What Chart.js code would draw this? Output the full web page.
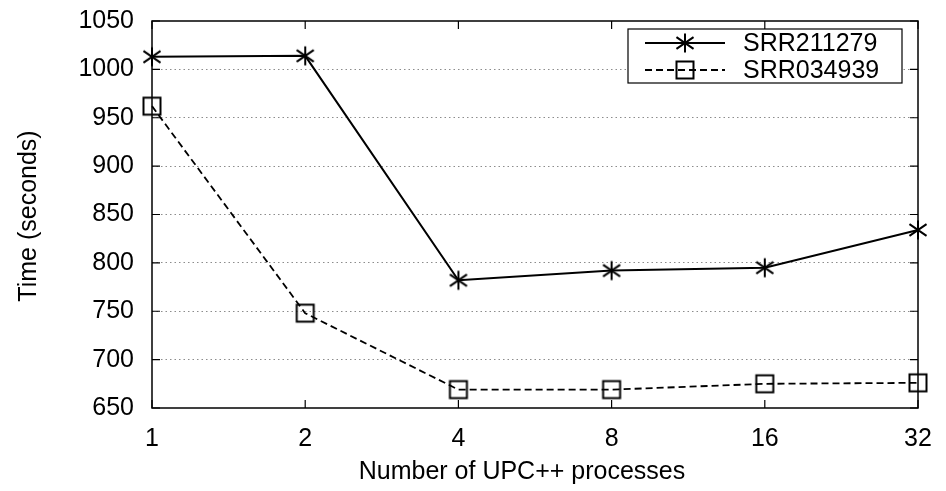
<!DOCTYPE html>
<html>
<head>
<meta charset="utf-8">
<script src="https://cdn.jsdelivr.net/npm/chart.js@4/dist/chart.umd.min.js"></script>
<style>
  html,body{margin:0;padding:0;background:#fff;}
  #c{display:block;}
</style>
</head>
<body>
<canvas id="c" width="946" height="491"></canvas>
<script>
/* ===== data ===== */
const procs = ["1","2","4","8","16","32"];
const srr211279 = [1013, 1014, 782, 792, 795, 834];
const srr034939 = [962, 748, 669, 669, 675, 676];
const yTicks = [650, 700, 750, 800, 850, 900, 950, 1000, 1050];
const xTitle = "Number of UPC++ processes";
const yTitle = "Time (seconds)";

const FONT = "'Liberation Sans', Arial, Helvetica, sans-serif";
const FS = 25;

/* ===== marker images (gnuplot style) ===== */
function makeMarker(kind){
    const s = 24, cv = document.createElement("canvas");
    cv.width = s; cv.height = s;
    const g = cv.getContext("2d");
    g.strokeStyle = "#000"; g.lineWidth = 2;
    const m = s/2, r = 9.5;
    g.beginPath();
    if(kind === "star"){
        g.moveTo(m, m-r); g.lineTo(m, m+r);
        g.moveTo(m-r*0.9, m-r*0.62); g.lineTo(m+r*0.9, m+r*0.62);
        g.moveTo(m-r*0.9, m+r*0.62); g.lineTo(m+r*0.9, m-r*0.62);
    } else {
        g.rect(m-8.5, m-8.5, 17, 17);
    }
    g.stroke();
    return cv;
}
const starImg = makeMarker("star");
const boxImg = makeMarker("box");

/* ===== frame, inward ticks, titles, legend ===== */
const framePlugin = {
    id: "frame",
    afterDatasetsDraw(chart){
        const {ctx, chartArea: a, scales: {x, y}} = chart;
        ctx.save();
        ctx.strokeStyle = "#000"; ctx.lineWidth = 1.5;
        ctx.strokeRect(a.left, a.top, a.right - a.left, a.bottom - a.top);
        ctx.beginPath();
        const tl = 8;
        yTicks.forEach(v => {
            const py = y.getPixelForValue(v);
            ctx.moveTo(a.left, py); ctx.lineTo(a.left + tl, py);
            ctx.moveTo(a.right, py); ctx.lineTo(a.right - tl, py);
        });
        procs.forEach((p, i) => {
            const px = x.getPixelForValue(i);
            ctx.moveTo(px, a.bottom); ctx.lineTo(px, a.bottom - tl);
            ctx.moveTo(px, a.top); ctx.lineTo(px, a.top + tl);
        });
        ctx.lineWidth = 1.2;
        ctx.stroke();

        // axis titles
        ctx.fillStyle = "#000";
        ctx.font = FS + "px " + FONT;
        ctx.textAlign = "center"; ctx.textBaseline = "middle";
        ctx.fillText(xTitle, 522, 472);
        ctx.save();
        ctx.translate(29, 216); ctx.rotate(-Math.PI/2);
        ctx.fillText(yTitle, 0, 0);
        ctx.restore();

        // legend
        const lx = 628, ly = 29, lw = 274, lh = 54;
        ctx.fillStyle = "#fff";
        ctx.fillRect(lx, ly, lw, lh);
        ctx.strokeStyle = "#000"; ctx.lineWidth = 1.2;
        ctx.strokeRect(lx, ly, lw, lh);
        chart.data.datasets.forEach((ds, i) => {
            const ry = i === 0 ? 43 : 70;
            ctx.save();
            ctx.strokeStyle = "#000";
            ctx.lineWidth = ds.borderWidth;
            ctx.setLineDash(ds.borderDash || []);
            ctx.beginPath(); ctx.moveTo(645, ry); ctx.lineTo(725, ry); ctx.stroke();
            ctx.restore();
            const img = ds.pointStyle;
            ctx.drawImage(img, 685 - img.width/2, ry - img.height/2);
            ctx.fillStyle = "#000";
            ctx.textAlign = "left"; ctx.textBaseline = "middle";
            ctx.fillText(ds.label, 743, ry + 1);
        });
        ctx.restore();
    }
};

new Chart(document.getElementById("c"), {
    type: "line",
    data: {
        labels: procs,
        datasets: [
            {label: "SRR211279", data: srr211279, borderColor: "#000", borderWidth: 2,
             pointStyle: starImg, pointRadius: 9, tension: 0},
            {label: "SRR034939", data: srr034939, borderColor: "#000", borderWidth: 1.8,
             borderDash: [7, 4], pointStyle: boxImg, pointRadius: 9, tension: 0}
        ]
    },
    options: {
        responsive: false,
        devicePixelRatio: 1,
        animation: false,
        layout: {padding: {top: 21, right: 28, left: 0, bottom: 0}},
        plugins: {legend: {display: false}, tooltip: {enabled: false}},
        scales: {
            x: {
                type: "category",
                offset: false,
                afterFit: s => { s.height = 83; s.paddingLeft = 0; s.paddingRight = 0; },
                grid: {display: false, drawTicks: false},
                border: {display: false},
                ticks: {color: "#000", font: {family: FONT, size: FS}, padding: 16, maxRotation: 0}
            },
            y: {
                min: 650, max: 1050,
                afterFit: s => { s.width = 152; s.paddingTop = 0; s.paddingBottom = 0; },
                afterBuildTicks: s => { s.ticks = yTicks.map(v => ({value: v})); },
                grid: {
                    drawTicks: false,
                    color: ctx => (ctx.tick && (ctx.tick.value === 650 || ctx.tick.value === 1050)) ? "rgba(0,0,0,0)" : "#8c8c8c",
                    lineWidth: 1
                },
                border: {display: false, dash: [1.5, 3]},
                ticks: {color: "#000", font: {family: FONT, size: FS}, padding: 18,
                        callback: v => String(v)}
            }
        }
    },
    plugins: [framePlugin]
});
</script>
</body>
</html>
